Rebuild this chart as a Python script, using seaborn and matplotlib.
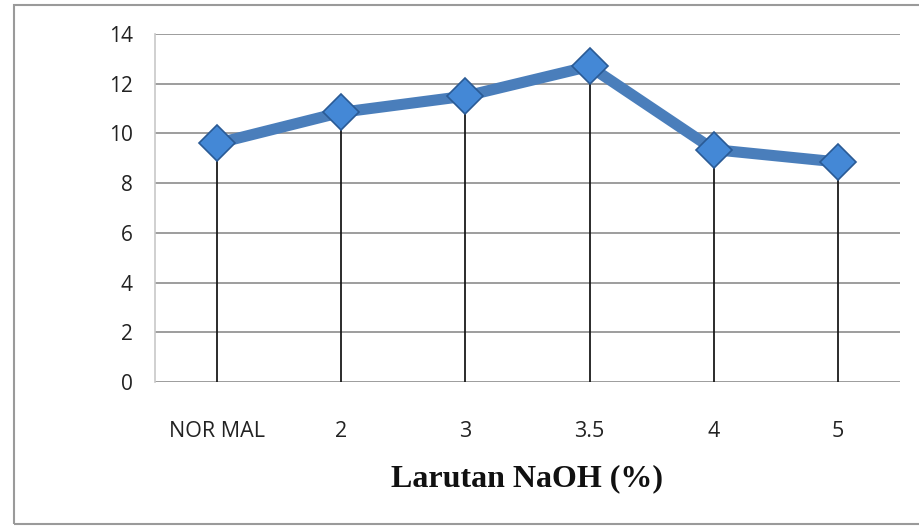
import matplotlib
matplotlib.use("Agg")
import matplotlib.pyplot as plt
import seaborn as sns
import pandas as pd
from matplotlib.patches import Rectangle

categories = ["NOR MAL", "2", "3", "3.5", "4", "5"]
values = [9.6, 10.85, 11.5, 12.7, 9.35, 8.85]
yticks = [0, 2, 4, 6, 8, 10, 12, 14]

df = pd.DataFrame({"cat": categories, "val": values})

sns.set_theme(style="white")
fig = plt.figure(figsize=(9.2, 5.27), dpi=100)
ax = fig.add_axes([155/920, 1-382/527, (900-155)/920, (382-34)/527])

# figure border
fig.patches.append(Rectangle((14/920, 3/527), 1.2, 1-8/527, transform=fig.transFigure,
                             fill=False, edgecolor="#9a9a9a", linewidth=1.5))

xs = list(range(len(categories)))
ax.vlines(xs, 0, values, color="#1a1a1a", linewidth=1.3, zorder=2)
sns.lineplot(data=df, x="cat", y="val", ax=ax, sort=False, color="#4a7ebb",
             linewidth=8, marker="D", markersize=18, markerfacecolor="#4488d6",
             markeredgecolor="#2a5a95", markeredgewidth=1.2, zorder=3)

ax.set_xlim(-0.5, len(categories) - 0.5)
ax.set_ylim(0, 14)
ax.set_yticks(yticks)
ax.set_yticklabels([str(t) for t in yticks], fontsize=15, family="Open Sans",
                   color="#222222", fontweight="medium")
ax.set_xticks(xs)
ax.set_xticklabels(categories, fontsize=15.5, family="Open Sans", color="#222222",
                   fontweight="medium")
ax.tick_params(axis="x", length=0, pad=28)
ax.tick_params(axis="y", length=0, pad=16)
ax.yaxis.grid(True, color="#8c8c8c", linewidth=1.2)
ax.xaxis.grid(False)
ax.set_axisbelow(True)
for s in ["top", "right", "bottom"]:
    ax.spines[s].set_visible(False)
ax.spines["left"].set_color("#c8c8c8")
ax.spines["left"].set_linewidth(1.2)
ax.set_ylabel("")
ax.set_xlabel("Larutan NaOH (%)", fontsize=23, family="Liberation Serif",
              fontweight="bold", labelpad=16, color="#111111")

fig.savefig("out.png", dpi=100)
